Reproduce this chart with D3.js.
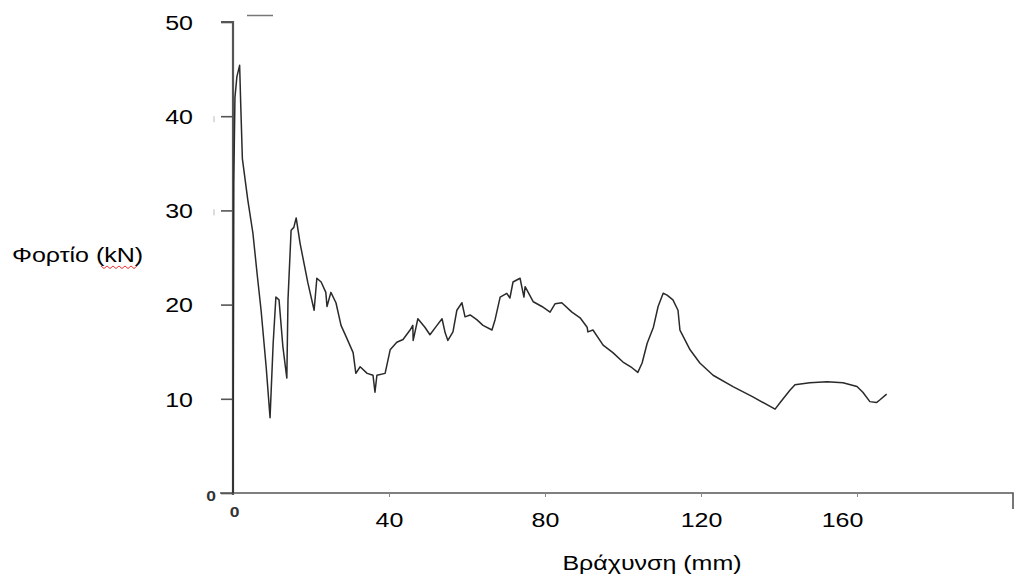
<!DOCTYPE html>
<html>
<head>
<meta charset="utf-8">
<script src="https://cdn.jsdelivr.net/npm/d3@7"></script>
<style>
  html, body { margin: 0; padding: 0; background: #fff; }
  svg { display: block; font-family: "Liberation Sans", Arial, sans-serif; }
</style>
</head>
<body>
<svg id="chart" width="1017" height="580"></svg>
<script>
// ---- data ----
const displacement = [0, 0.2, 0.5, 1.0, 1.7, 2.0, 2.4, 3.8, 5.1, 6.2, 7.2, 8.5, 9.5, 10.3, 11.0, 11.8, 12.8, 13.8, 14.1, 14.9, 15.6, 16.2, 17.2, 19.2, 20.8, 21.5, 22.6, 23.8, 24.1, 25.1, 26.4, 27.7, 29.0, 30.8, 31.5, 32.6, 34.4, 35.9, 36.4, 36.9, 39.0, 40.3, 42.0, 43.6, 45.4, 46.1, 46.2, 47.4, 49.2, 50.5, 52.3, 53.6, 54.4, 55.1, 56.4, 57.4, 58.7, 59.5, 60.8, 62.5, 64.1, 66.4, 67.2, 68.5, 70.2, 71.0, 71.8, 73.6, 74.6, 74.9, 77.0, 79.2, 81.3, 82.6, 84.3, 86.9, 89.0, 90.8, 91.0, 92.3, 94.9, 97.4, 100.0, 102.3, 103.8, 104.9, 106.2, 107.8, 109.0, 110.3, 111.3, 112.8, 114.1, 114.6, 117.2, 119.7, 123.1, 128.2, 133.3, 139.0, 140.3, 142.8, 144.1, 147.9, 152.3, 156.4, 160.0, 161.5, 163.3, 165.0, 165.9, 167.6];
const load = [0, 33, 42, 44.2, 45.4, 41, 35.5, 31.1, 27.6, 23.2, 19.4, 13.4, 8.0, 15.9, 20.8, 20.5, 15.5, 12.2, 20.5, 27.9, 28.2, 29.2, 26.5, 22.3, 19.4, 22.8, 22.4, 21.3, 19.8, 21.3, 20.2, 17.8, 16.6, 14.9, 12.7, 13.4, 12.7, 12.5, 10.7, 12.5, 12.7, 15.2, 16.0, 16.3, 17.3, 17.8, 16.2, 18.5, 17.6, 16.8, 17.8, 18.5, 17.0, 16.2, 17.1, 19.4, 20.2, 18.7, 18.9, 18.4, 17.8, 17.3, 18.4, 20.8, 21.2, 20.7, 22.4, 22.8, 20.8, 21.9, 20.3, 19.8, 19.2, 20.1, 20.2, 19.2, 18.6, 17.6, 17.1, 17.3, 15.7, 14.9, 13.9, 13.3, 12.8, 13.8, 15.9, 17.6, 19.8, 21.2, 21.0, 20.5, 19.4, 17.3, 15.2, 13.8, 12.5, 11.3, 10.2, 8.9, 9.6, 10.9, 11.5, 11.7, 11.8, 11.7, 11.3, 10.7, 9.7, 9.6, 9.9, 10.5];
const xTicks = [0, 40, 80, 120, 160, 200];
const xTickLabels = ["0", "40", "80", "120", "160", ""];
const yTicks = [0, 10, 20, 30, 40, 50];
const yTickLabels = ["0", "10", "20", "30", "40", "50"];
const xTitle = "Βράχυνση (mm)";
const yTitle = "Φορτίο (kN)";

// ---- layout ----
const svg = d3.select("#chart");
const x = d3.scaleLinear().domain([0, 200]).range([233, 1013]);
const y = d3.scaleLinear().domain([0, 50]).range([493, 22]);
const axisColor = "#555";
const stretch = 1.25; // source text is horizontally stretched

// stray marks (from the source image)
svg.append("line").attr("x1", 247).attr("x2", 273).attr("y1", 15.5).attr("y2", 15.5)
  .attr("stroke", "#777").attr("stroke-width", 1.5);
[y(40) + 3, y(30) + 2].forEach(v => {
  svg.append("line").attr("x1", 214).attr("x2", 214).attr("y1", v - 3).attr("y2", v + 3)
    .attr("stroke", "#bbb").attr("stroke-width", 1);
});

// Y axis
const yAxisG = svg.append("g").attr("transform", `translate(${x(0)},0)`)
  .call(d3.axisLeft(y).tickValues(yTicks).tickSize(12).tickFormat((d, i) => yTickLabels[i]));
yAxisG.select(".domain").attr("stroke", axisColor).attr("stroke-width", 2.2)
  .attr("d", `M-12,${y(50)}H0V${y(0) + 2}`);
yAxisG.selectAll(".tick line").attr("stroke", axisColor).attr("stroke-width", 1.6);
yAxisG.selectAll(".tick text")
  .attr("x", 0).attr("dy", "0.36em")
  .attr("transform", `translate(-40,0) scale(${stretch},1)`)
  .attr("fill", "#000").attr("font-size", 20)
  .attr("font-family", "Liberation Sans, Arial, sans-serif");
yAxisG.selectAll(".tick").filter(d => d === 0).select("text")
  .attr("transform", `translate(-17,2) scale(${stretch},1)`)
  .attr("font-size", 14).attr("font-weight", "bold").attr("fill", "#333");

// X axis
const xAxisG = svg.append("g").attr("transform", `translate(0,${y(0)})`)
  .call(d3.axisBottom(x).tickValues(xTicks).tickSize(4).tickFormat((d, i) => xTickLabels[i]));
xAxisG.select(".domain").attr("stroke", axisColor).attr("stroke-width", 1.6)
  .attr("d", `M220,0H${x(200)}V16`);
xAxisG.selectAll(".tick line").attr("stroke", "#888").attr("stroke-width", 1);
xAxisG.selectAll(".tick").filter(d => d === 0 || d === 200).select("line").remove();
xAxisG.selectAll(".tick text")
  .attr("y", 0).attr("dy", "0.36em")
  .attr("transform", `translate(0,27) scale(${stretch},1)`)
  .attr("fill", "#000").attr("font-size", 20)
  .attr("font-family", "Liberation Sans, Arial, sans-serif");
xAxisG.selectAll(".tick").filter(d => d === 160).select("text")
  .attr("transform", `translate(-15,27) scale(${stretch},1)`);
xAxisG.selectAll(".tick").filter(d => d === 0).select("text")
  .attr("transform", `translate(1,19) scale(${stretch},1)`)
  .attr("font-size", 14).attr("font-weight", "bold").attr("fill", "#333");

// Curve
const pts = displacement.map((d, i) => [d, load[i]]);
svg.append("path").datum(pts)
  .attr("fill", "none").attr("stroke", "#2a2a2a").attr("stroke-width", 1.5)
  .attr("stroke-linejoin", "round")
  .attr("d", d3.line().x(d => x(d[0])).y(d => y(d[1])));

// Titles
svg.append("text").attr("x", 0).attr("y", 0).attr("text-anchor", "middle")
  .attr("transform", `translate(652,570) scale(${stretch},1)`)
  .attr("font-size", 20).attr("fill", "#000").text(xTitle);
svg.append("text").attr("x", 0).attr("y", 0)
  .attr("transform", `translate(12,262) scale(${stretch},1)`)
  .attr("font-size", 20).attr("fill", "#000").text(yTitle);

// red squiggle under "kN" (spell-check mark in the source)
const sq = [];
for (let i = 0; i <= 12; i++) sq.push([101 + i * 3, 266 + (i % 2 ? 2.5 : 0)]);
svg.append("path").attr("d", d3.line()(sq)).attr("fill", "none")
  .attr("stroke", "#e33").attr("stroke-width", 1);
</script>
</body>
</html>
